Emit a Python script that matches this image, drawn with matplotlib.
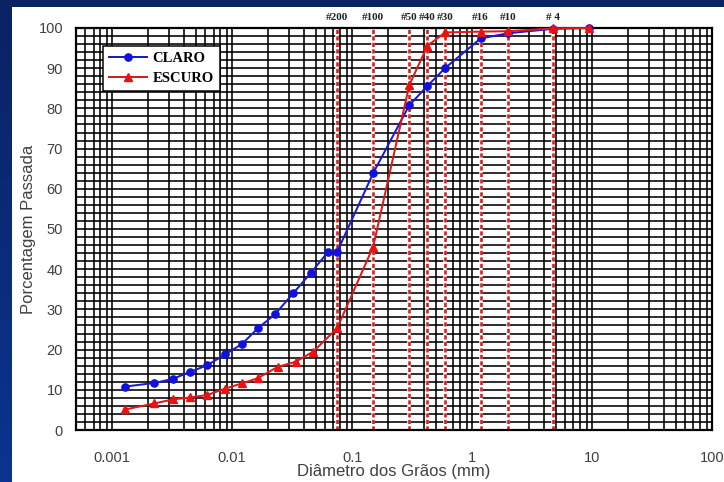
import numpy as np
import matplotlib
matplotlib.use("Agg")
import matplotlib.pyplot as plt
from matplotlib.colors import LinearSegmentedColormap
from matplotlib.ticker import LogLocator, MultipleLocator, NullFormatter, FixedLocator, FixedFormatter

# Grain size distribution (mm vs % passing)
claro_d = [0.00128, 0.00225, 0.0032, 0.0045, 0.0062, 0.00875, 0.0121, 0.0164,
           0.0228, 0.0323, 0.0451, 0.0626, 0.075, 0.15, 0.30, 0.425, 0.60,
           1.18, 2.0, 4.75, 9.5]
claro_p = [10.8, 11.7, 12.7, 14.5, 16.1, 18.8, 21.4, 25.3,
           28.8, 34.0, 39.0, 44.2, 44.3, 63.9, 80.8, 85.6, 90.1,
           97.4, 98.7, 99.8, 100.0]

escuro_d = [0.00128, 0.00225, 0.0032, 0.0045, 0.0062, 0.00875, 0.0121, 0.0164,
            0.0240, 0.0340, 0.0475, 0.075, 0.15, 0.30, 0.425, 0.60,
            1.18, 2.0, 4.75, 9.5]
escuro_p = [5.1, 6.6, 7.6, 8.1, 8.7, 10.3, 11.6, 12.9,
            15.7, 17.0, 19.5, 25.3, 45.6, 85.8, 95.6, 98.9,
            99.1, 99.2, 99.9, 100.0]

sieve_names = ["#200", "#100", "#50", "#40", "#30", "#16", "#10", "# 4"]
sieve_mm = [0.075, 0.15, 0.30, 0.425, 0.60, 1.18, 2.0, 4.75]

x_ticks = [0.001, 0.01, 0.1, 1, 10, 100]
x_tick_labels = ["0.001", "0.01", "0.1", "1", "10", "100"]
y_ticks = [0, 10, 20, 30, 40, 50, 60, 70, 80, 90, 100]

W, H = 724, 482
px = 72.0 / 100.0  # points per pixel at dpi=100
sans = "Liberation Sans"
serif = "Liberation Serif"

fig = plt.figure(figsize=(W / 100, H / 100), dpi=100)
fig.patch.set_facecolor("#0b2262")

# navy frame with a slight vertical gradient
bg = fig.add_axes([0, 0, 1, 1], zorder=-10)
grad = np.linspace(0, 1, 256).reshape(-1, 1)
cmap = LinearSegmentedColormap.from_list("navy", ["#0a3490", "#0b2262"])
bg.imshow(grad, aspect="auto", cmap=cmap, extent=[0, 1, 0, 1], origin="lower")
bg.add_patch(plt.Rectangle((12 / W, 0), 1 - 12 / W, 1 - 7 / H,
                           facecolor="white", edgecolor="none"))
bg.set_xlim(0, 1)
bg.set_ylim(0, 1)
bg.axis("off")

ax = fig.add_axes([76 / W, (H - 430) / H, (712 - 76) / W, (430 - 28) / H])
ax.set_facecolor("white")
ax.set_xscale("log")
ax.set_xlim(0.0005, 100)
ax.set_ylim(0, 100)

# dense black grid
ax.xaxis.set_major_locator(FixedLocator(x_ticks))
ax.xaxis.set_major_formatter(FixedFormatter(x_tick_labels))
ax.xaxis.set_minor_locator(LogLocator(base=10, subs=np.arange(2, 10), numticks=20))
ax.xaxis.set_minor_formatter(NullFormatter())
ax.yaxis.set_major_locator(FixedLocator(y_ticks))
ax.yaxis.set_minor_locator(MultipleLocator(2))
ax.grid(which="both", axis="both", color="black", linewidth=1.6 * px, zorder=0)
ax.set_axisbelow(True)
ax.tick_params(which="both", length=0)
ax.tick_params(axis="x", pad=13 * px * 1.0 + 6, labelsize=10.5, labelcolor="#404040")
ax.tick_params(axis="y", pad=13 * px, labelsize=10.5, labelcolor="#404040")
for lab in ax.get_xticklabels() + ax.get_yticklabels():
    lab.set_fontfamily(sans)
for s in ax.spines.values():
    s.set_linewidth(2.2 * px)
    s.set_color("black")

# sieve lines
for name, d in zip(sieve_names, sieve_mm):
    ax.axvline(d, color="white", linewidth=3.5 * px, zorder=1)
    ax.axvline(d, color="#d41f1f", linewidth=2.6 * px, linestyle=(0, (1.6, 0.9)), zorder=2)
    ax.text(d, 1.016, name, transform=ax.get_xaxis_transform(), ha="center", va="bottom",
            fontsize=8, fontweight="bold", family=serif, color="#222222")

ax.plot(claro_d, claro_p, color="#1a1ad0", linewidth=2.0 * px, marker="o",
        markersize=5.2, markerfacecolor="#1010e0", markeredgecolor="#1010e0",
        label="CLARO", zorder=4, clip_on=False)
ax.plot(escuro_d, escuro_p, color="#e01818", linewidth=2.0 * px, marker="^",
        markersize=5.6, markerfacecolor="#ee1010", markeredgecolor="#ee1010",
        label="ESCURO", zorder=5, clip_on=False)

leg = ax.legend(loc="upper left", bbox_to_anchor=((103 - 76) / 636, (430 - 46) / 402),
                frameon=True, fancybox=False, framealpha=1, edgecolor="black",
                prop={"family": serif, "weight": "bold", "size": 10.5},
                handlelength=2.6, handletextpad=0.4, borderpad=0.4, labelspacing=0.45,
                borderaxespad=0)
leg.get_frame().set_linewidth(1.5 * px)
leg.set_zorder(6)

ax.set_ylabel("Porcentagem Passada", fontsize=12, color="#404040", family=sans)
ax.yaxis.set_label_coords((36 - 76) / 636, 0.5)
ax.set_xlabel("Diâmetro dos Grãos (mm)", fontsize=12, color="#404040", family=sans)
ax.xaxis.set_label_coords((394 - 76) / 636, -(464 - 430) / 402)

fig.savefig("out.png", dpi=100, facecolor=fig.get_facecolor())
